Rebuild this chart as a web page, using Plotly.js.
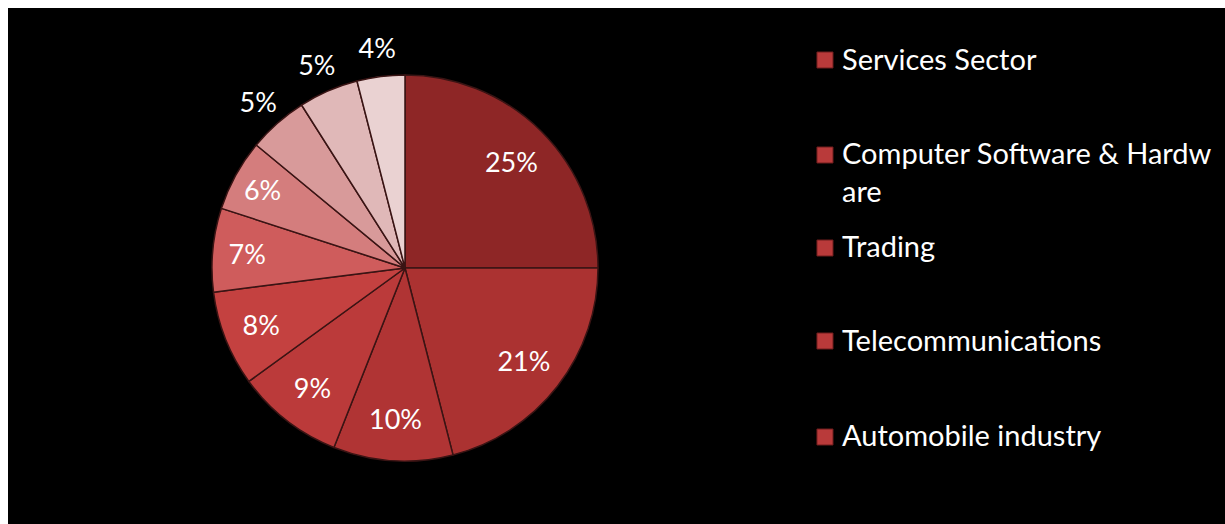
<!DOCTYPE html>
<html>
<head>
<meta charset="utf-8">
<script src="https://cdn.plot.ly/plotly-3.0.1.min.js"></script>
<style>
  html, body { margin: 0; padding: 0; background: #ffffff; }
  #chart { position: absolute; left: 8px; top: 8px; width: 1217px; height: 516px; }
</style>
</head>
<body>
<div id="chart"></div>
<script>
// Data
const categories = [
  "Services Sector",
  "Computer Software & Hardware",
  "Trading",
  "Telecommunications",
  "Automobile industry",
  "Construction Development",
  "Drugs & Pharmaceuticals",
  "Chemicals",
  "Power",
  "Metallurgical Industries"
];
const shares = [25, 21, 10, 9, 8, 7, 6, 5, 5, 4];
// Legend entries visible in the reference (the rest are cut off there)
const legendLabels = [
  "Services Sector",
  "Computer Software & Hardw<br>are",
  "Trading",
  "Telecommunications",
  "Automobile industry"
];
const sliceColors = ["#8e2626", "#ab3231", "#b03434", "#bb3a3a", "#c44140",
                     "#cf5c5c", "#d47d7d", "#d89a9a", "#e0b8b8", "#ead2d2"];
// which labels sit on the slice, which sit just outside it
const labelInside = [true, true, true, true, true, true, true, false, false, false];

const FONT = "Lato, 'Open Sans', sans-serif";
const PIE_DOMAIN = { x: [0.1676, 0.4848], y: [0.1221, 0.8702] };
const OUTER_DOMAIN = { x: [0.12079, 0.53164], y: [0.01163, 0.98062] };
const clear = shares.map(() => "rgba(0,0,0,0)");

// Coloured slices
const baseTrace = {
  type: "pie",
  labels: categories,
  values: shares,
  sort: false,
  direction: "clockwise",
  rotation: 0,
  marker: { colors: sliceColors, line: { color: "#3a1414", width: 1.5 } },
  textinfo: "none",
  automargin: false,
  showlegend: false,
  domain: PIE_DOMAIN,
  hoverinfo: "label+percent"
};

// Transparent ring on the slices carrying the inside percentage labels
const innerLabels = {
  type: "pie",
  labels: categories,
  values: shares,
  sort: false,
  direction: "clockwise",
  rotation: 0,
  hole: 0.56,
  marker: { colors: clear, line: { width: 0 } },
  texttemplate: "%{percent:.0%}",
  textposition: labelInside.map(v => v ? "inside" : "none"),
  insidetextorientation: "horizontal",
  insidetextfont: { color: "#ffffff", size: 27, family: FONT },
  automargin: false,
  showlegend: false,
  domain: PIE_DOMAIN,
  hoverinfo: "skip"
};

// Transparent ring around the pie carrying the outside labels
const outerLabels = {
  type: "pie",
  labels: categories,
  values: shares,
  sort: false,
  direction: "clockwise",
  rotation: 0,
  hole: 0.776,
  marker: { colors: clear, line: { width: 0 } },
  texttemplate: "%{percent:.0%}",
  textposition: labelInside.map(v => v ? "none" : "inside"),
  insidetextorientation: "horizontal",
  insidetextfont: { color: "#ffffff", size: 27, family: FONT },
  automargin: false,
  showlegend: false,
  domain: OUTER_DOMAIN,
  hoverinfo: "skip"
};

const annotations = [];
const shapes = [];
const legendTextY = [0.9031, 0.6831, 0.5388, 0.3585, 0.1725];
const legendMarkY = [52, 147, 240, 333, 429].map(v => 1 - v / 516);
legendLabels.forEach((lab, i) => {
  annotations.push({
    xref: "paper", yref: "paper",
    x: 0.684, y: legendTextY[i],
    xanchor: "left", yanchor: "middle",
    align: "left",
    text: lab,
    showarrow: false,
    font: { color: "#ffffff", size: 29, family: FONT }
  });
  const h = 16 / 516;
  shapes.push({
    type: "rect", xref: "paper", yref: "paper",
    x0: 0.6647, x1: 0.6779, y0: legendMarkY[i] - h / 2, y1: legendMarkY[i] + h / 2,
    fillcolor: "#b93a3a", line: { color: "#6e1c1c", width: 1 }
  });
});

const layout = {
  width: 1217, height: 516,
  paper_bgcolor: "#000000",
  plot_bgcolor: "#000000",
  margin: { l: 0, r: 0, t: 0, b: 0 },
  showlegend: false,
  font: { family: FONT, color: "#ffffff" },
  annotations: annotations,
  shapes: shapes
};

Plotly.newPlot("chart", [baseTrace, innerLabels, outerLabels], layout, { displayModeBar: false, staticPlot: true });
</script>
</body>
</html>
